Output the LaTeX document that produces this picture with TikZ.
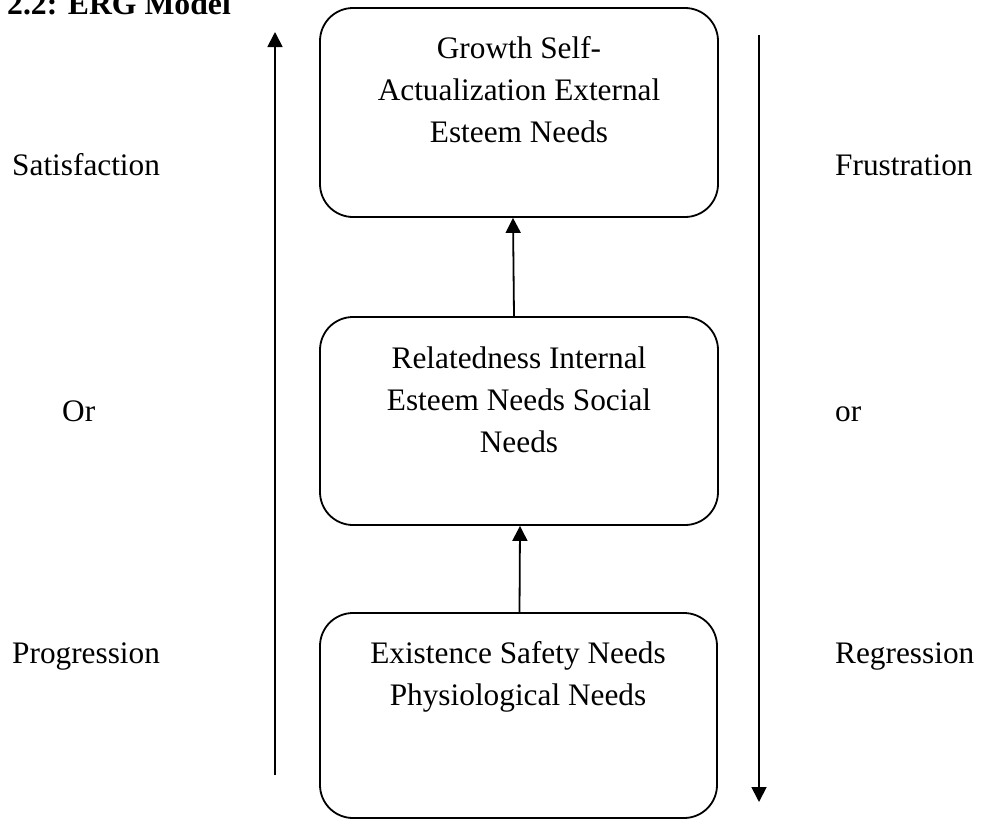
\documentclass[tikz,border=0pt]{standalone}
\usepackage{fontspec}
\setmainfont{Liberation Serif}
\usetikzlibrary{arrows.meta}
\begin{document}
\begin{tikzpicture}[x=1pt,y=-1pt,
  box/.style={draw,line width=1.8pt,rounded corners=33pt,inner sep=0pt},
  arr/.style={line width=1.8pt,-{Triangle[length=15pt,width=15pt]}},
  txt/.style={inner sep=0pt,anchor=base,font=\fontsize{31.3}{42}\selectfont},
  lbl/.style={inner sep=0pt,anchor=base west,font=\fontsize{31.3}{42}\selectfont}]
\useasboundingbox (0,0) rectangle (982,819);
% title
\node[lbl,font=\fontsize{31.7}{42}\selectfont\bfseries] (title) at (7,14) {2.2: ERG Model};
% boxes
\node[box,minimum width=398pt,minimum height=209pt] (g) at (519,112.5) {};
\node[box,minimum width=398pt,minimum height=208pt] (r) at (519,421) {};
\node[box,minimum width=397pt,minimum height=205pt] (e) at (518.5,715.5) {};
% box texts
\node[txt] (g1) at (519,58) {Growth Self-};
\node[txt] (g2) at (519,100) {Actualization External};
\node[txt] (g3) at (519,142) {Esteem Needs};
\node[txt] (r1) at (519,368) {Relatedness Internal};
\node[txt] (r2) at (519,410) {Esteem Needs Social};
\node[txt] (r3) at (519,452) {Needs};
\node[txt] (e1) at (518,663) {Existence Safety Needs};
\node[txt] (e2) at (518,705) {Physiological Needs};
% side labels
\node[lbl] (sat) at (12,175) {Satisfaction};
\node[lbl] (or1) at (62,421) {Or};
\node[lbl] (prog) at (12,663) {Progression};
\node[lbl] (fru) at (835,175) {Frustration};
\node[lbl] (or2) at (835,421) {or};
\node[lbl] (reg) at (835,663) {Regression};
% connectors between boxes
\draw[arr] ([xshift=-5pt]r.north) -- ([xshift=-6pt]g.south);
\draw[arr] ([xshift=1pt]e.north) -- ([xshift=1pt]r.south);
% side arrows
\coordinate (la1) at (275,775);
\coordinate (la2) at (275,32);
\coordinate (ra1) at (759,35);
\coordinate (ra2) at (759,802);
\draw[arr] (la1) -- (la2);
\draw[arr] (ra1) -- (ra2);
\end{tikzpicture}
\end{document}
